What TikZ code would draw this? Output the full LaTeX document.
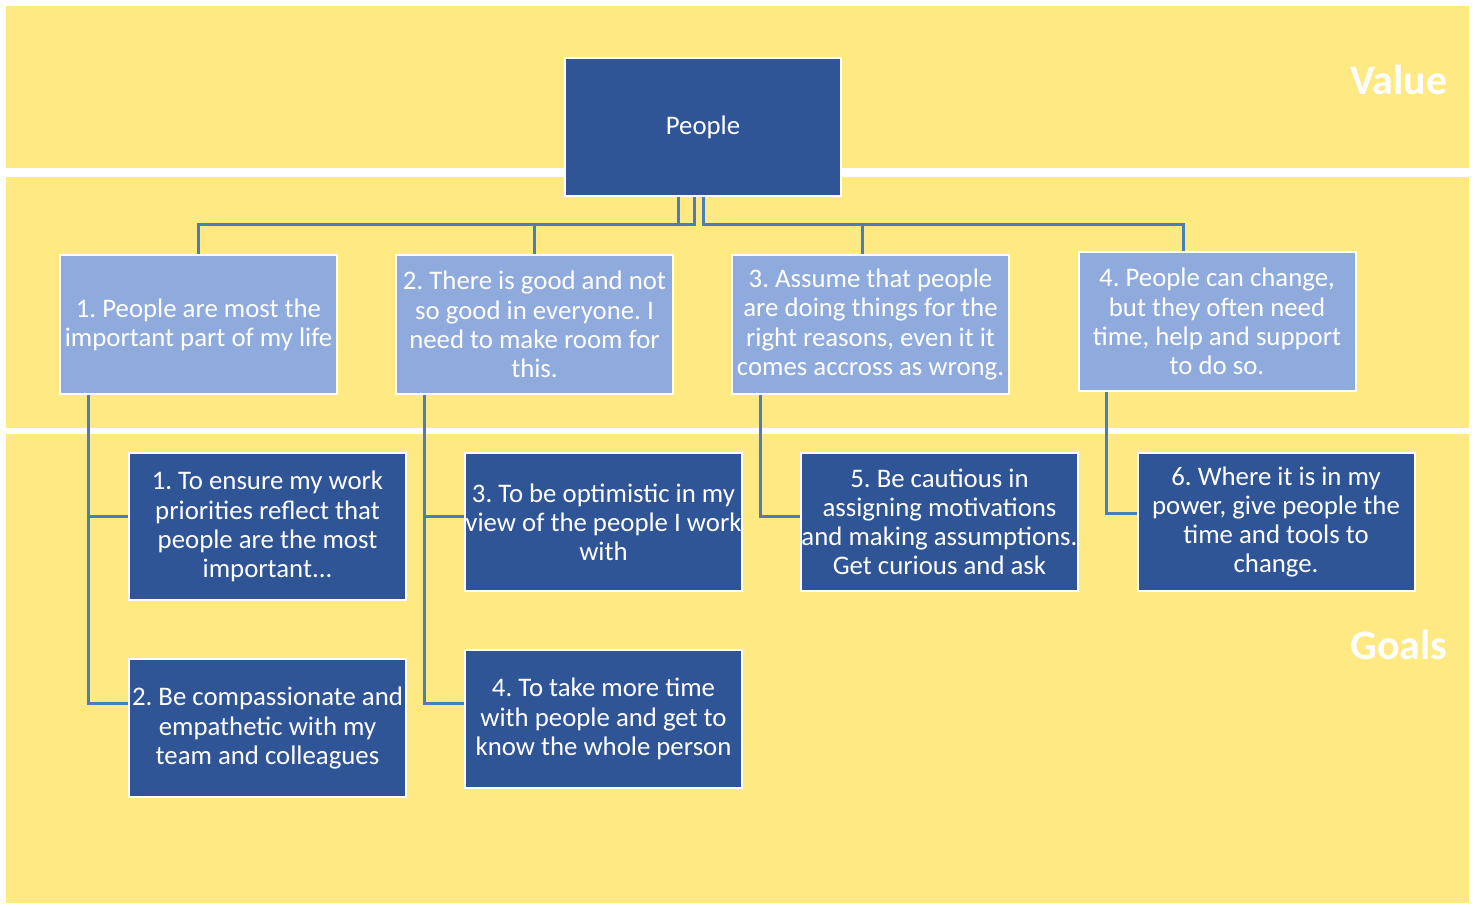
\documentclass[tikz,border=0pt]{standalone}
\usepackage{fontspec}
\setmainfont{Carlito}
\usepackage{tikz}
\usetikzlibrary{positioning, calc}
\definecolor{bandyellow}{HTML}{FFE983}
\definecolor{darkbox}{HTML}{2F5597}
\definecolor{lightbox}{HTML}{8FAADC}
\definecolor{linkblue}{HTML}{4A7EBB}
\frenchspacing

\begin{document}
\begin{tikzpicture}[x=0.5pt, y=-0.5pt,
    every node/.style={font=\fontsize{13.4}{14.6}\selectfont, text=white},
    valuebox/.style={draw=white, line width=1pt, fill=lightbox,
      minimum width=138.5pt, minimum height=69.5pt, inner sep=0pt,
      align=center},
    goalbox/.style={draw=white, line width=1pt, fill=darkbox,
      minimum width=138.5pt, minimum height=69pt, inner sep=0pt,
      align=center},
    link/.style={draw=linkblue, line width=1.5pt}]
  % background bands
  \useasboundingbox[fill=white] (0,0) rectangle (1475,906);
  \fill[bandyellow] (6,6) rectangle (1469,168);
  \fill[bandyellow] (6,177) rectangle (1469,428);
  \fill[bandyellow] (6,434) rectangle (1469,903);
  \node[font=\fontsize{21}{24}\selectfont\bfseries] (valuelbl) at (1399,80) {Value};
  \node[font=\fontsize{21}{24}\selectfont\bfseries] (goalslbl) at (1399,645) {Goals};

  % top
  \node[goalbox, minimum width=138pt] (people) at (703,127) {People};

  % values
  \node[valuebox] (v1) at (198.5,324.5) {1. People are most the\\important part of my life};
  \node[valuebox] (v2) at (534.5,324.5) {2. There is good and not\\so good in everyone. I\\need to make room for\\this.};
  \node[valuebox] (v3) at (870.5,324.5) {3. Assume that people\\are doing things for the\\right reasons, even it it\\comes accross as wrong.};
  \node[valuebox] (v4) at (1217,321.5) {4. People can change,\\but they often need\\time, help and support\\to do so.};

  % goals
  \node[goalbox, minimum height=73.5pt] (g1) at (267.5,526.5) {1. To ensure my work\\priorities reflect that\\people are the most\\important...};
  \node[goalbox] (g2) at (267.5,728) {2. Be compassionate and\\empathetic with my\\team and colleagues};
  \node[goalbox] (g3) at (603.5,522) {3. To be optimistic in my\\view of the people I work\\with};
  \node[goalbox] (g4) at (603.5,719) {4. To take more time\\with people and get to\\know the whole person};
  \node[goalbox] (g5) at (939.5,522) {5. Be cautious in\\assigning motivations\\and making assumptions.\\Get curious and ask};
  \node[goalbox] (g6) at (1276,522) {6. Where it is in my\\power, give people the\\time and tools to\\change.};

  % connectors
  \coordinate (bus) at (0,224);
  \draw[link] ([xshift=-12.5pt]people.south) |- (v1.north |- bus) -- (v1.north);
  \draw[link] ([xshift=-4.5pt]people.south) |- (v2.north |- bus) -- (v2.north);
  \draw[link] (people.south) |- ([xshift=-4.25pt]v3.north |- bus) -- ([xshift=-4.25pt]v3.north);
  \draw[link] (people.south) |- ([xshift=-17pt]v4.north |- bus) -- ([xshift=-17pt]v4.north);

  \draw[link] ([xshift=-55.25pt]v1.south) |- ([yshift=12.5pt]g2.west);
  \draw[link] ([xshift=-55.25pt]v1.south) |- ([yshift=5.25pt]g1.west);
  \draw[link] ([xshift=-55.25pt]v2.south) |- ([yshift=8pt]g4.west);
  \draw[link] ([xshift=-55.25pt]v2.south) |- ([yshift=3pt]g3.west);
  \draw[link] ([xshift=-55.25pt]v3.south) |- ([yshift=3pt]g5.west);
  \draw[link] ([xshift=-55.5pt]v4.south) |- ([yshift=4.5pt]g6.west);
\end{tikzpicture}
\end{document}
